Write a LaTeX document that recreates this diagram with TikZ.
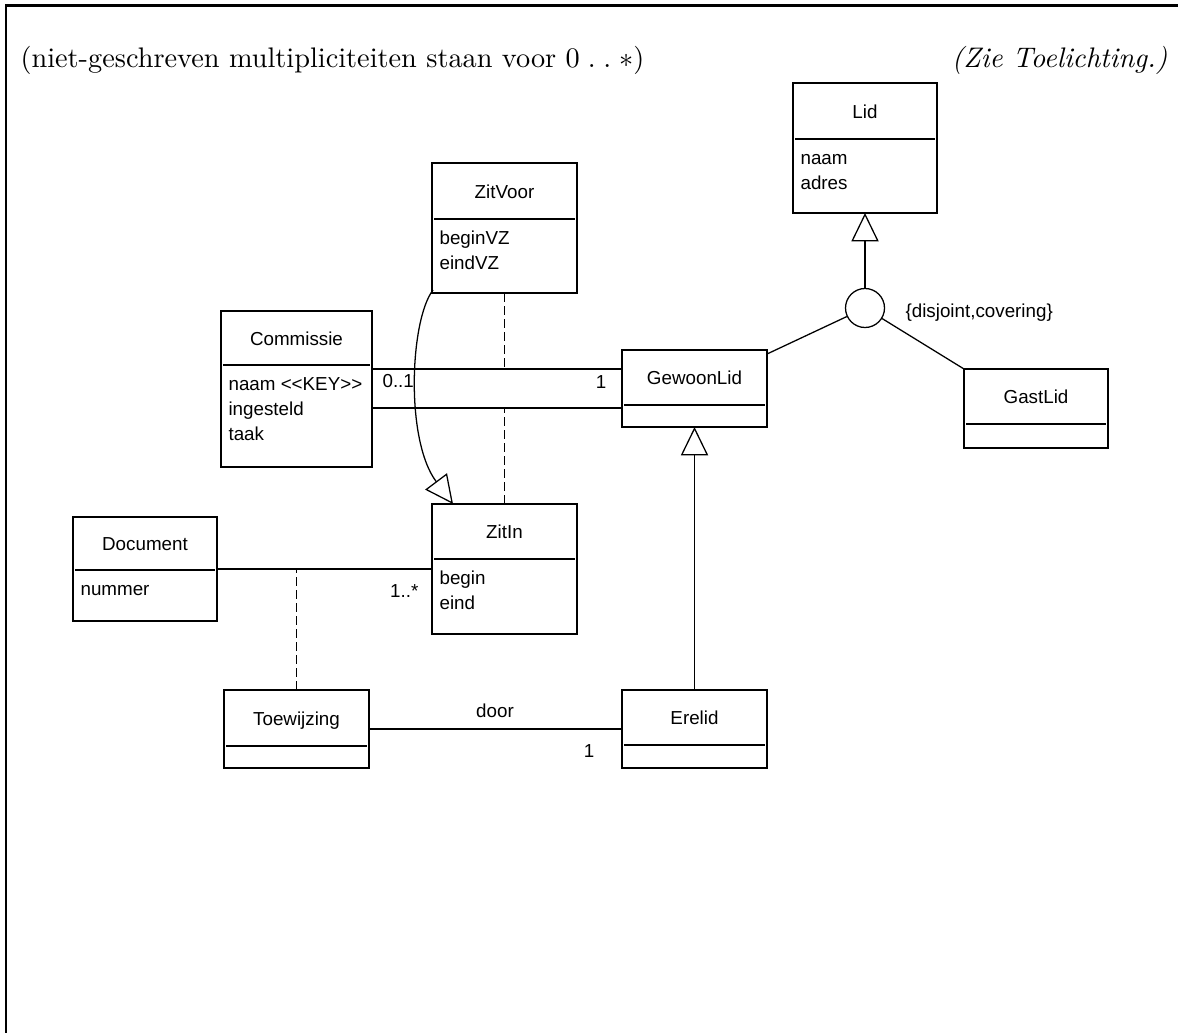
\documentclass[tikz,border=0pt]{standalone}
\usepackage{fontspec}
\newfontfamily\umlfont{Liberation Sans}
\usetikzlibrary{calc,arrows.meta}
\newcommand\px{0.3534pt}
\newcommand\umlbox[7]{%
  \node[cls, anchor=north west, minimum width=#4*\px, minimum height=#5*\px] (#1) at (#2,#3) {};
  \node[ttl, anchor=base] (#1-t) at ($(#1.north)+(0,#6/2+7)$) {#7};
  \draw[sepline] ($(#1.north west)+(2,#6)$) -- ($(#1.north east)+(-2,#6)$);
}
\newcommand\umlattr[4]{%
  \node[attr] (#2) at ($(#1.north west)+(7,#3)$) {#4};
}
\begin{document}
\begin{tikzpicture}[x=0.3534pt, y=-0.3534pt,
  cls/.style={draw, line width=0.45pt, rectangle, inner sep=0pt, outer sep=0pt},
  ttl/.style={font=\umlfont\fontsize{6.64}{8}\selectfont, inner sep=0pt},
  attr/.style={font=\umlfont\fontsize{6.64}{8}\selectfont, inner sep=0pt, anchor=base west},
  lbl/.style={font=\umlfont\fontsize{6.64}{8}\selectfont, inner sep=0pt},
  sepline/.style={line width=0.45pt},
  assoc/.style={line width=0.45pt},
  assocdash/.style={line width=0.45pt, dash pattern=on 3.2pt off 1.4pt},
  gen/.style={line width=0.45pt, -{Triangle[open, length=10pt, width=9.6pt]}},
  framestyle/.style={line width=0.9pt, line join=miter},
  hdr/.style={font=\fontsize{10}{12}\selectfont, inner sep=0pt}
]
\useasboundingbox (0,0) rectangle (1178,1032);
\fill[white] (0,0) rectangle (1178,1032);
\draw[framestyle] (6,1045) -- (6,5.3) -- (1190,5.3);

\node[hdr, anchor=base west] (head) at (20,67) {(niet-geschreven multipliciteiten staan voor $0\;.\;.\;\ast$)};
\node[hdr, anchor=base east] (note) at (1168,67) {\itshape (Zie Toelichting.)};

% classes
\umlbox{Lid}{793}{83}{144}{130}{56}{Lid}
\umlattr{Lid}{Lid-a1}{81}{naam}
\umlattr{Lid}{Lid-a2}{106}{adres}

\umlbox{Commissie}{221}{311}{151}{156}{54}{Commissie}
\umlattr{Commissie}{Com-a1}{79}{naam <\kern0pt<KEY>\kern0pt>}
\umlattr{Commissie}{Com-a2}{104}{ingesteld}
\umlattr{Commissie}{Com-a3}{129}{taak}

\umlbox{ZitVoor}{432}{163}{145}{130}{56}{ZitVoor}
\umlattr{ZitVoor}{ZV-a1}{81}{beginVZ}
\umlattr{ZitVoor}{ZV-a2}{106}{eindVZ}

\umlbox{GewoonLid}{622}{350}{145}{77}{55}{GewoonLid}
\umlbox{GastLid}{964}{369}{144}{79}{55}{GastLid}

\umlbox{ZitIn}{432}{504}{145}{130}{55}{ZitIn}
\umlattr{ZitIn}{ZI-a1}{80}{begin}
\umlattr{ZitIn}{ZI-a2}{105}{eind}

\umlbox{Document}{73}{517}{144}{104}{53}{Document}
\umlattr{Document}{Doc-a1}{78}{nummer}

\umlbox{Toewijzing}{224}{690}{145}{78}{56}{Toewijzing}
\umlbox{Erelid}{622}{690}{145}{78}{55}{Erelid}

% generalisation set
\node[draw, circle, minimum size=39*\px, inner sep=0pt, line width=0.45pt] (gs) at (865,308) {};
\node[lbl, anchor=base west] (dc) at (905,317) {\{disjoint,covering\}};

% helper levels
\coordinate (l1) at (0,369);
\coordinate (l2) at (0,408);
\coordinate (l3) at (0,569);
\coordinate (l4) at (0,729);

% connectors
\draw[gen] (gs) -- (Lid.south);
\draw[assoc] (gs) -- ($(GewoonLid.north east)+(0,4)$);
\draw[assoc] (gs) -- (GastLid.north west);
\draw[gen] (Erelid.north) -- (GewoonLid.south);

\draw[assoc] (Commissie.east |- l1) -- (GewoonLid.west |- l1);
\draw[assoc] (Commissie.east |- l2) -- (GewoonLid.west |- l2);
\draw[assocdash] (ZitVoor.south) -- (ZitVoor.south |- l1);
\draw[assocdash] (ZitIn.north) -- (ZitIn.north |- l2);

\draw[gen] ($(ZitVoor.south west)+(1,-3)$) .. controls ($(ZitVoor.south west)+(-22,27)$) and ($(ZitIn.north west)+(-27,-64)$) .. ($(ZitIn.north west)+(21,0)$);

\draw[assoc] (Document.east |- l3) -- (ZitIn.west |- l3);
\draw[assocdash] (Toewijzing.north) -- (Toewijzing.north |- l3);
\draw[assoc] (Toewijzing.east |- l4) -- (Erelid.west |- l4);

% multiplicities and role
\node[lbl, anchor=base west] (m1) at (382,387) {0..1};
\node[lbl, anchor=base east] (m2) at (607,388) {1};
\node[lbl, anchor=base east] (m3) at (419,597) {1..*};
\node[lbl, anchor=base] (m4) at (495,717) {door};
\node[lbl, anchor=base east] (m5) at (595,757) {1};
\end{tikzpicture}
\end{document}
